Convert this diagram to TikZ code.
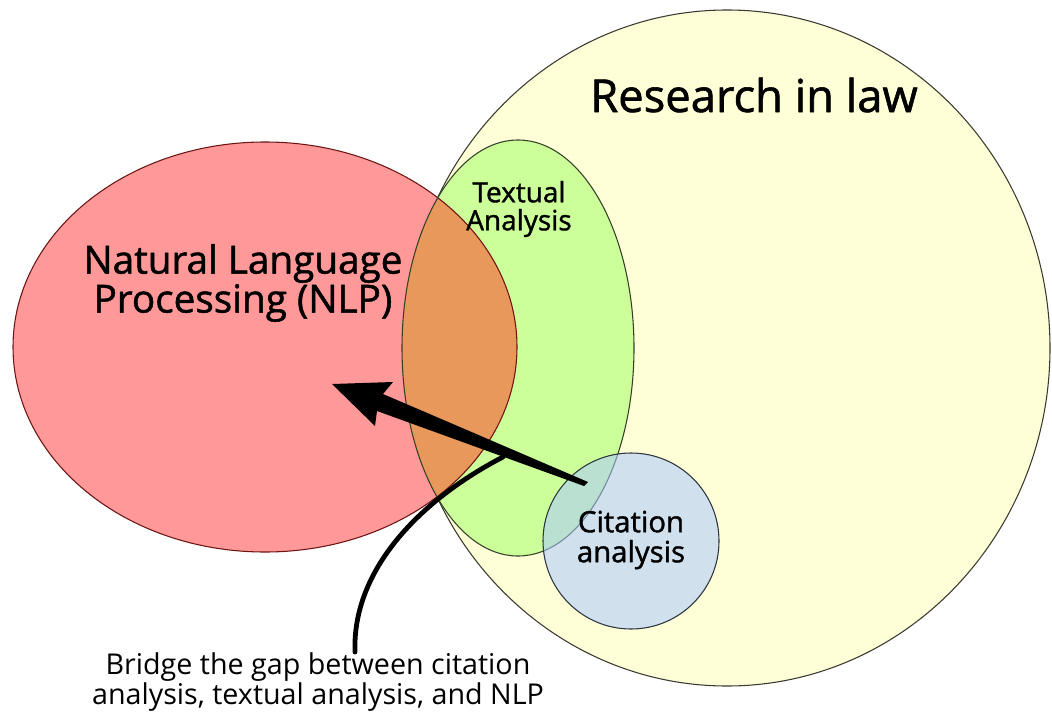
\documentclass[tikz,border=0pt]{standalone}
\usepackage{fontspec}
\setmainfont{Open Sans}
\newfontfamily\setfont{Open Sans}[FakeBold=1.3]
\usetikzlibrary{positioning}
\definecolor{LawYellow}{HTML}{FFFFD7}
\definecolor{LawEdge}{HTML}{3A3A30}
\definecolor{NlpRed}{HTML}{FF9999}
\definecolor{NlpEdge}{HTML}{6E1414}
\definecolor{TextGreen}{HTML}{CCFF99}
\definecolor{TextEdge}{HTML}{34402A}
\definecolor{OverlapOrange}{HTML}{E8985A}
\definecolor{CiteBlue}{HTML}{AAC8FF}
\definecolor{CiteEdge}{HTML}{2C3540}

\begin{document}
\begin{tikzpicture}[x=0.75pt,y=-0.75pt,line cap=round,line join=round]
  \useasboundingbox (0,0) rectangle (1052,717);
  \coordinate (Law) at (727,348);\coordinate (Nlp) at (265,347);
  \coordinate (Txt) at (518,348);\coordinate (Cit) at (631,541);
  % sets
  \fill[LawYellow] (Law) ellipse[x radius=323,y radius=338];
  \draw[LawEdge,line width=.8pt] (Law) ellipse[x radius=323,y radius=338];
  \fill[TextGreen] (Txt) ellipse[x radius=116,y radius=208];
  \fill[NlpRed] (Nlp) ellipse[x radius=252,y radius=205];
  \begin{scope}
    \clip (Nlp) ellipse[x radius=252,y radius=205];
    \fill[OverlapOrange] (Txt) ellipse[x radius=116,y radius=208];
  \end{scope}
  \draw[NlpEdge,line width=.8pt] (Nlp) ellipse[x radius=252,y radius=205];
  \draw[TextEdge,line width=.8pt] (Txt) ellipse[x radius=116,y radius=208];
  \fill[CiteBlue,fill opacity=.55] (Cit) circle[radius=88];
  \draw[CiteEdge,line width=.8pt] (Cit) circle[radius=88];
  % labels
  \node[font=\setfont\fontsize{34}{36}\selectfont,anchor=base] (law) at (754,112) {Research in law};
  \node[font=\setfont\fontsize{29}{26}\selectfont,align=center] (nlp) at (243,283) {Natural Language\\Processing (NLP)};
  \node[font=\setfont\fontsize{21}{21}\selectfont,align=center] (textual) at (519,209) {Textual\\Analysis};
  \node[font=\setfont\fontsize{22}{22.5}\selectfont,align=center] (citation) at (631,540) {Citation\\analysis};
  \node[font=\fontsize{21.5}{17.5}\selectfont,align=center] (bridge) at (318,682) {Bridge the gap between citation\\analysis, textual analysis, and NLP};
  % arrow and pointer
  \coordinate (arrowtip) at (332,384);\coordinate (arrowtail) at (586,484);
  \fill (arrowtip) -- (393,382) -- (383,394) -- (588,482) -- (arrowtail) -- (584,486) -- (377,411) -- (375,426) -- cycle;
  \coordinate (bridgetop) at (355,652);\coordinate (gapend) at (503,457);
  \draw[line width=3.6pt] (bridgetop) .. controls (352,570) and (420,500) .. (gapend);
\end{tikzpicture}
\end{document}
